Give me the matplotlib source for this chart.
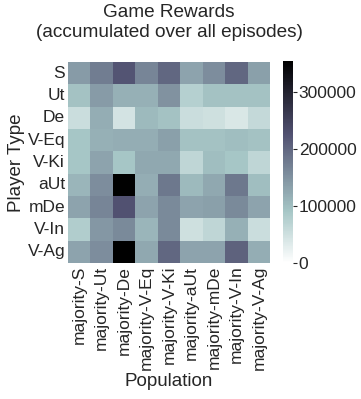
import matplotlib
matplotlib.use("Agg")
import matplotlib.pyplot as plt
import numpy as np
import seaborn as sns

player_types = ["S", "Ut", "De", "V-Eq", "V-Ki", "aUt", "mDe", "V-In", "V-Ag"]
populations = ["majority-S", "majority-Ut", "majority-De", "majority-V-Eq", "majority-V-Ki",
               "majority-aUt", "majority-mDe", "majority-V-In", "majority-V-Ag"]

row_S    = [140000, 175000, 222000, 165000, 200000, 130000, 155000, 200000, 135000]
row_Ut   = [95000, 140000, 115000, 115000, 150000, 75000, 95000, 95000, 95000]
row_De   = [55000, 120000, 45000, 105000, 95000, 55000, 50000, 40000, 60000]
row_VEq  = [90000, 115000, 120000, 120000, 135000, 95000, 95000, 100000, 95000]
row_VKi  = [90000, 130000, 90000, 125000, 125000, 65000, 100000, 90000, 65000]
row_aUt  = [110000, 155000, 352000, 120000, 180000, 105000, 125000, 180000, 100000]
row_mDe  = [130000, 165000, 225000, 130000, 160000, 130000, 135000, 160000, 130000]
row_VIn  = [80000, 145000, 160000, 110000, 160000, 50000, 65000, 115000, 55000]
row_VAg  = [130000, 155000, 354000, 125000, 200000, 130000, 130000, 205000, 120000]

data = np.array([row_S, row_Ut, row_De, row_VEq, row_VKi, row_aUt, row_mDe, row_VIn, row_VAg])
cbar_ticks = [0, 100000, 200000, 300000]

sns.set_style("white")
plt.rcParams['font.family'] = ['Liberation Sans', 'DejaVu Sans']

fig = plt.figure(figsize=(3.61, 3.99), dpi=100)
ax = fig.add_axes([0.188, 0.341, 0.56, 0.504])
cax = fig.add_axes([0.784, 0.341, 0.028, 0.506])

sns.heatmap(data, ax=ax, cbar_ax=cax, cmap="bone_r", vmin=0,
            xticklabels=populations, yticklabels=player_types)

ax.tick_params(axis='both', labelsize=12.5, colors='#262626', length=0, pad=2)
ax.set_xticklabels(populations, rotation=90, fontsize=12.5, color='#262626')
ax.set_yticklabels(player_types, rotation=0, fontsize=12.5, color='#262626')
ax.set_xlabel("Population", fontsize=13.5, color='#262626', labelpad=2)
ax.set_ylabel("Player Type", fontsize=13.5, color='#262626', labelpad=2)
ax.set_title("Game Rewards\n(accumulated over all episodes)", fontsize=13.7,
             color='#262626', pad=18)

cax.set_yticks(cbar_ticks)
cax.set_yticklabels([str(t) for t in cbar_ticks])
cax.tick_params(labelsize=12.5, colors='#262626', length=3, width=0.8, pad=1, left=False, right=True)
for lab in cax.get_yticklabels():
    lab.set_color('#262626')

fig.savefig("out.png", dpi=100)
